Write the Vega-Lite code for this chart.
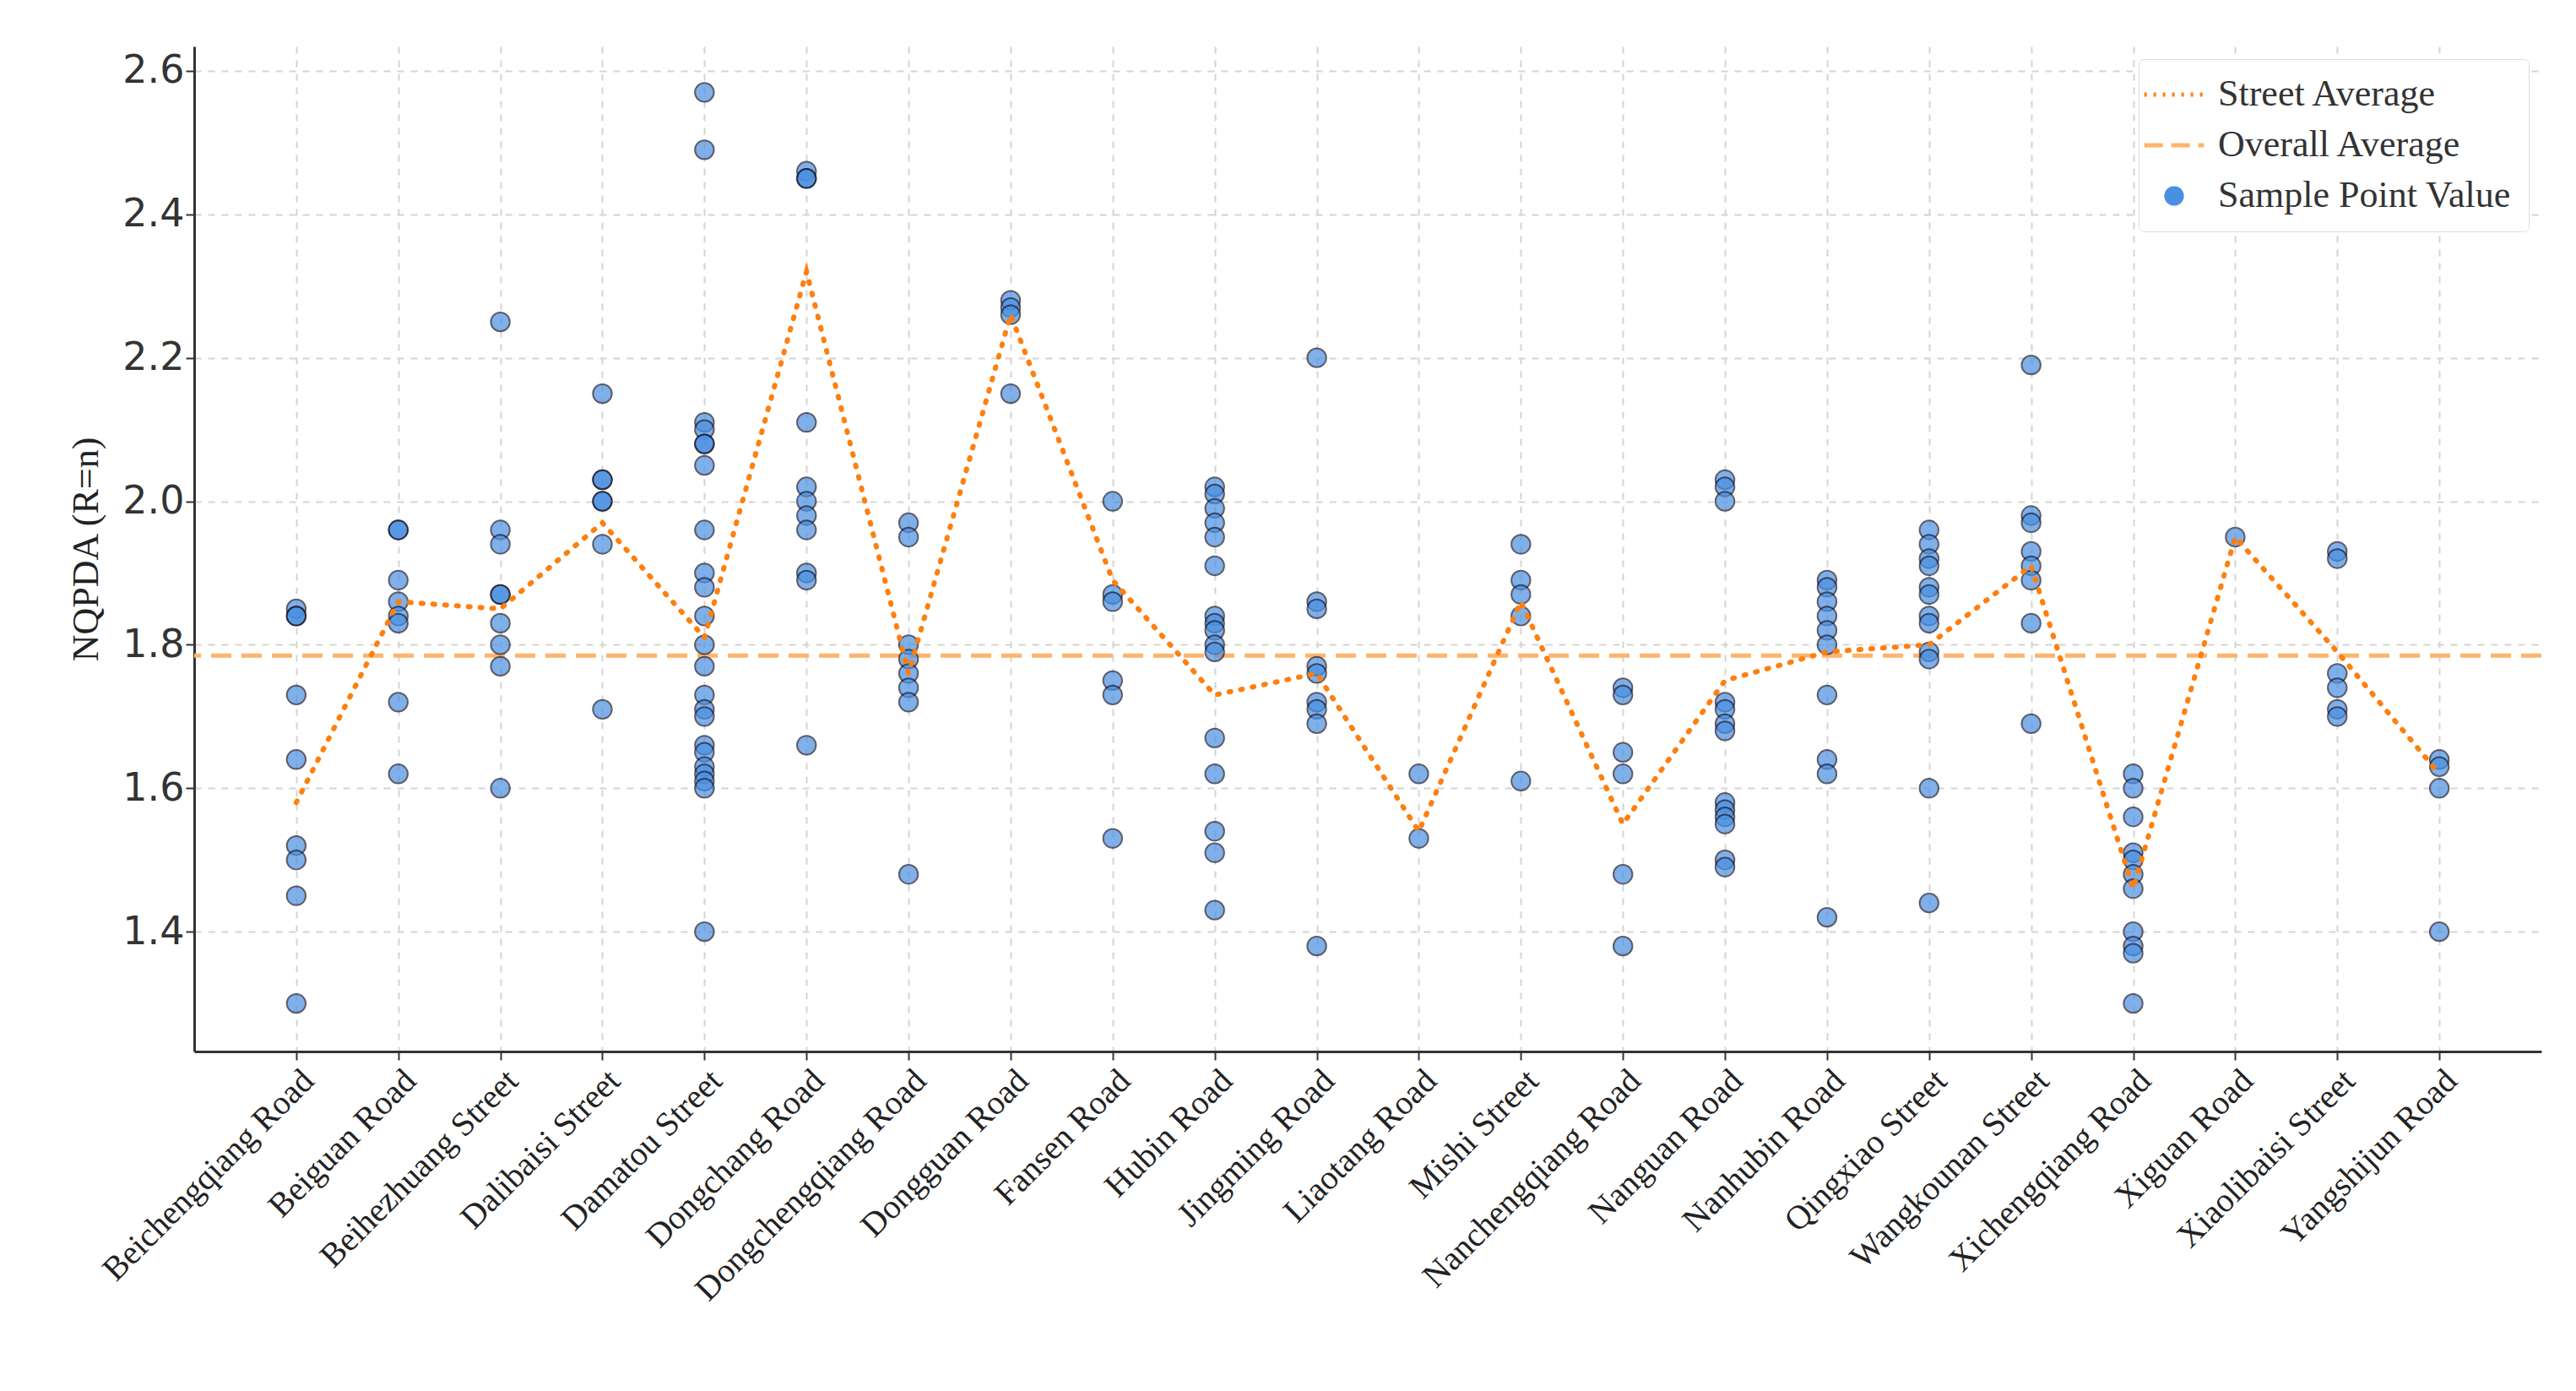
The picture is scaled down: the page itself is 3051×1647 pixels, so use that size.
{
  "$schema": "https://vega.github.io/schema/vega-lite/v6.json",
  "width": 2780,
  "height": 1190,
  "background": "white",
  "padding": {"left": 80, "top": 55, "right": 20, "bottom": 10},
  "config": {
    "view": {"stroke": null},
    "axis": {"grid": true, "gridColor": "#d4d4d4", "gridDash": [8, 8], "gridWidth": 2, "domainColor": "#333", "domainWidth": 3, "tickColor": "#333", "tickWidth": 2, "tickSize": 10}
  },
  "datasets": {
    "pts": [
      {"s":"Beichengqiang Road","v":1.85},{"s":"Beichengqiang Road","v":1.84},{"s":"Beichengqiang Road","v":1.84},{"s":"Beichengqiang Road","v":1.73},{"s":"Beichengqiang Road","v":1.64},{"s":"Beichengqiang Road","v":1.52},{"s":"Beichengqiang Road","v":1.5},{"s":"Beichengqiang Road","v":1.45},{"s":"Beichengqiang Road","v":1.3},
      {"s":"Beiguan Road","v":1.96},{"s":"Beiguan Road","v":1.96},{"s":"Beiguan Road","v":1.89},{"s":"Beiguan Road","v":1.86},{"s":"Beiguan Road","v":1.84},{"s":"Beiguan Road","v":1.83},{"s":"Beiguan Road","v":1.72},{"s":"Beiguan Road","v":1.62},
      {"s":"Beihezhuang Street","v":2.25},{"s":"Beihezhuang Street","v":1.96},{"s":"Beihezhuang Street","v":1.94},{"s":"Beihezhuang Street","v":1.87},{"s":"Beihezhuang Street","v":1.87},{"s":"Beihezhuang Street","v":1.83},{"s":"Beihezhuang Street","v":1.8},{"s":"Beihezhuang Street","v":1.77},{"s":"Beihezhuang Street","v":1.6},
      {"s":"Dalibaisi Street","v":2.15},{"s":"Dalibaisi Street","v":2.03},{"s":"Dalibaisi Street","v":2.03},{"s":"Dalibaisi Street","v":2.0},{"s":"Dalibaisi Street","v":2.0},{"s":"Dalibaisi Street","v":1.94},{"s":"Dalibaisi Street","v":1.71},
      {"s":"Damatou Street","v":2.57},{"s":"Damatou Street","v":2.49},{"s":"Damatou Street","v":2.11},{"s":"Damatou Street","v":2.1},{"s":"Damatou Street","v":2.08},{"s":"Damatou Street","v":2.08},{"s":"Damatou Street","v":2.05},{"s":"Damatou Street","v":1.96},{"s":"Damatou Street","v":1.9},{"s":"Damatou Street","v":1.88},{"s":"Damatou Street","v":1.84},{"s":"Damatou Street","v":1.8},{"s":"Damatou Street","v":1.77},{"s":"Damatou Street","v":1.73},{"s":"Damatou Street","v":1.71},{"s":"Damatou Street","v":1.7},{"s":"Damatou Street","v":1.66},{"s":"Damatou Street","v":1.65},{"s":"Damatou Street","v":1.63},{"s":"Damatou Street","v":1.62},{"s":"Damatou Street","v":1.61},{"s":"Damatou Street","v":1.6},{"s":"Damatou Street","v":1.4},
      {"s":"Dongchang Road","v":2.46},{"s":"Dongchang Road","v":2.45},{"s":"Dongchang Road","v":2.45},{"s":"Dongchang Road","v":2.11},{"s":"Dongchang Road","v":2.02},{"s":"Dongchang Road","v":2.0},{"s":"Dongchang Road","v":1.98},{"s":"Dongchang Road","v":1.96},{"s":"Dongchang Road","v":1.9},{"s":"Dongchang Road","v":1.89},{"s":"Dongchang Road","v":1.66},
      {"s":"Dongchengqiang Road","v":1.97},{"s":"Dongchengqiang Road","v":1.95},{"s":"Dongchengqiang Road","v":1.8},{"s":"Dongchengqiang Road","v":1.78},{"s":"Dongchengqiang Road","v":1.76},{"s":"Dongchengqiang Road","v":1.74},{"s":"Dongchengqiang Road","v":1.72},{"s":"Dongchengqiang Road","v":1.48},
      {"s":"Dongguan Road","v":2.28},{"s":"Dongguan Road","v":2.27},{"s":"Dongguan Road","v":2.26},{"s":"Dongguan Road","v":2.15},
      {"s":"Fansen Road","v":2.0},{"s":"Fansen Road","v":1.87},{"s":"Fansen Road","v":1.86},{"s":"Fansen Road","v":1.75},{"s":"Fansen Road","v":1.73},{"s":"Fansen Road","v":1.53},
      {"s":"Hubin Road","v":2.02},{"s":"Hubin Road","v":2.01},{"s":"Hubin Road","v":1.99},{"s":"Hubin Road","v":1.97},{"s":"Hubin Road","v":1.95},{"s":"Hubin Road","v":1.91},{"s":"Hubin Road","v":1.84},{"s":"Hubin Road","v":1.83},{"s":"Hubin Road","v":1.82},{"s":"Hubin Road","v":1.8},{"s":"Hubin Road","v":1.79},{"s":"Hubin Road","v":1.67},{"s":"Hubin Road","v":1.62},{"s":"Hubin Road","v":1.54},{"s":"Hubin Road","v":1.51},{"s":"Hubin Road","v":1.43},
      {"s":"Jingming Road","v":2.2},{"s":"Jingming Road","v":1.86},{"s":"Jingming Road","v":1.85},{"s":"Jingming Road","v":1.77},{"s":"Jingming Road","v":1.76},{"s":"Jingming Road","v":1.72},{"s":"Jingming Road","v":1.71},{"s":"Jingming Road","v":1.69},{"s":"Jingming Road","v":1.38},
      {"s":"Liaotang Road","v":1.62},{"s":"Liaotang Road","v":1.53},
      {"s":"Mishi Street","v":1.94},{"s":"Mishi Street","v":1.89},{"s":"Mishi Street","v":1.87},{"s":"Mishi Street","v":1.84},{"s":"Mishi Street","v":1.61},
      {"s":"Nanchengqiang Road","v":1.74},{"s":"Nanchengqiang Road","v":1.73},{"s":"Nanchengqiang Road","v":1.65},{"s":"Nanchengqiang Road","v":1.62},{"s":"Nanchengqiang Road","v":1.48},{"s":"Nanchengqiang Road","v":1.38},
      {"s":"Nanguan Road","v":2.03},{"s":"Nanguan Road","v":2.02},{"s":"Nanguan Road","v":2.0},{"s":"Nanguan Road","v":1.72},{"s":"Nanguan Road","v":1.71},{"s":"Nanguan Road","v":1.69},{"s":"Nanguan Road","v":1.68},{"s":"Nanguan Road","v":1.58},{"s":"Nanguan Road","v":1.57},{"s":"Nanguan Road","v":1.56},{"s":"Nanguan Road","v":1.55},{"s":"Nanguan Road","v":1.5},{"s":"Nanguan Road","v":1.49},
      {"s":"Nanhubin Road","v":1.89},{"s":"Nanhubin Road","v":1.88},{"s":"Nanhubin Road","v":1.86},{"s":"Nanhubin Road","v":1.84},{"s":"Nanhubin Road","v":1.82},{"s":"Nanhubin Road","v":1.8},{"s":"Nanhubin Road","v":1.73},{"s":"Nanhubin Road","v":1.64},{"s":"Nanhubin Road","v":1.62},{"s":"Nanhubin Road","v":1.42},
      {"s":"Qingxiao Street","v":1.96},{"s":"Qingxiao Street","v":1.94},{"s":"Qingxiao Street","v":1.92},{"s":"Qingxiao Street","v":1.91},{"s":"Qingxiao Street","v":1.88},{"s":"Qingxiao Street","v":1.87},{"s":"Qingxiao Street","v":1.84},{"s":"Qingxiao Street","v":1.83},{"s":"Qingxiao Street","v":1.79},{"s":"Qingxiao Street","v":1.78},{"s":"Qingxiao Street","v":1.6},{"s":"Qingxiao Street","v":1.44},
      {"s":"Wangkounan Street","v":2.19},{"s":"Wangkounan Street","v":1.98},{"s":"Wangkounan Street","v":1.97},{"s":"Wangkounan Street","v":1.93},{"s":"Wangkounan Street","v":1.91},{"s":"Wangkounan Street","v":1.89},{"s":"Wangkounan Street","v":1.83},{"s":"Wangkounan Street","v":1.69},
      {"s":"Xichengqiang Road","v":1.62},{"s":"Xichengqiang Road","v":1.6},{"s":"Xichengqiang Road","v":1.56},{"s":"Xichengqiang Road","v":1.51},{"s":"Xichengqiang Road","v":1.5},{"s":"Xichengqiang Road","v":1.48},{"s":"Xichengqiang Road","v":1.46},{"s":"Xichengqiang Road","v":1.4},{"s":"Xichengqiang Road","v":1.38},{"s":"Xichengqiang Road","v":1.37},{"s":"Xichengqiang Road","v":1.3},
      {"s":"Xiguan Road","v":1.95},
      {"s":"Xiaolibaisi Street","v":1.93},{"s":"Xiaolibaisi Street","v":1.92},{"s":"Xiaolibaisi Street","v":1.76},{"s":"Xiaolibaisi Street","v":1.74},{"s":"Xiaolibaisi Street","v":1.71},{"s":"Xiaolibaisi Street","v":1.7},
      {"s":"Yangshijun Road","v":1.64},{"s":"Yangshijun Road","v":1.63},{"s":"Yangshijun Road","v":1.6},{"s":"Yangshijun Road","v":1.4}
    ],
    "avg": [
      {"s":"Beichengqiang Road","v":1.58},{"s":"Beiguan Road","v":1.86},{"s":"Beihezhuang Street","v":1.85},{"s":"Dalibaisi Street","v":1.97},{"s":"Damatou Street","v":1.81},{"s":"Dongchang Road","v":2.32},{"s":"Dongchengqiang Road","v":1.76},{"s":"Dongguan Road","v":2.26},{"s":"Fansen Road","v":1.89},{"s":"Hubin Road","v":1.73},{"s":"Jingming Road","v":1.76},{"s":"Liaotang Road","v":1.54},{"s":"Mishi Street","v":1.86},{"s":"Nanchengqiang Road","v":1.55},{"s":"Nanguan Road","v":1.75},{"s":"Nanhubin Road","v":1.79},{"s":"Qingxiao Street","v":1.8},{"s":"Wangkounan Street","v":1.91},{"s":"Xichengqiang Road","v":1.46},{"s":"Xiguan Road","v":1.95},{"s":"Xiaolibaisi Street","v":1.79},{"s":"Yangshijun Road","v":1.62}
    ]
  },
  "encoding": {
    "x": {"field": "s", "type": "nominal", "sort": null, "scale": {"type": "point", "padding": 1.03},
      "axis": {"title": null, "labelAngle": -45, "labelAlign": "right", "labelBaseline": "top", "labelFont": "Liberation Serif", "labelFontSize": 40, "labelColor": "#222", "labelPadding": 4, "labelLimit": 1000}},
    "y": {"field": "v", "type": "quantitative", "scale": {"domain": [1.233, 2.634], "nice": false, "zero": false},
      "axis": {"title": "NQPDA (R=n)", "titleFont": "Liberation Serif", "titleFontSize": 44, "titleFontWeight": "normal", "titleColor": "#222", "titlePadding": 20, "labelFont": "DejaVu Sans", "labelFontSize": 46, "labelColor": "#333", "format": ".1f", "values": [1.4, 1.6, 1.8, 2.0, 2.2, 2.4, 2.6]}},
    "color": {"datum": "Street Average", "type": "nominal",
      "scale": {"domain": ["Street Average", "Overall Average", "Sample Point Value"], "range": ["#ff7f0e", "#ffb36b", "#4a90e2"]},
      "legend": {"title": null, "orient": "top-right", "offset": 15, "labelFont": "Liberation Serif", "labelFontSize": 44, "labelColor": "#333", "symbolSize": 900, "symbolStrokeWidth": 5, "rowPadding": 16, "padding": 20, "labelOffset": 30, "strokeColor": "#ddd", "fillColor": "white", "cornerRadius": 6, "labelLimit": 600,
        "encode": {"symbols": {"update": {
          "shape": {"signal": "datum.value === 'Sample Point Value' ? 'circle' : 'stroke'"},
          "strokeDash": {"signal": "datum.value === 'Street Average' ? [3, 8] : datum.value === 'Overall Average' ? [22, 10] : [1, 0]"},
          "stroke": {"signal": "datum.value === 'Sample Point Value' ? '#333' : '#ff7f0e'"},
          "strokeWidth": {"signal": "datum.value === 'Sample Point Value' ? 2 : 5"},
          "fill": {"signal": "datum.value === 'Sample Point Value' ? '#4a90e2' : 'transparent'"},
          "size": {"signal": "datum.value === 'Sample Point Value' ? 450 : 5000"}
        }}}}}
  },
  "layer": [
    {"data": {"values": [{"y": 1.785}]}, "mark": {"type": "rule", "color": "#ffc58f", "strokeWidth": 5, "strokeDash": [24, 12]},
      "encoding": {"x": null, "y": {"field": "y", "type": "quantitative"}, "color": {"datum": "Overall Average", "type": "nominal"}}},
    {"data": {"name": "pts"}, "mark": {"type": "circle", "size": 500, "opacity": 0.7, "stroke": "#1a1a2e", "strokeWidth": 2},
      "encoding": {"color": {"datum": "Sample Point Value", "type": "nominal"}}},
    {"data": {"name": "avg"}, "mark": {"type": "line", "strokeWidth": 6, "strokeDash": [2, 12], "strokeCap": "round"},
      "encoding": {"color": {"datum": "Street Average", "type": "nominal"}}}
  ]
}
